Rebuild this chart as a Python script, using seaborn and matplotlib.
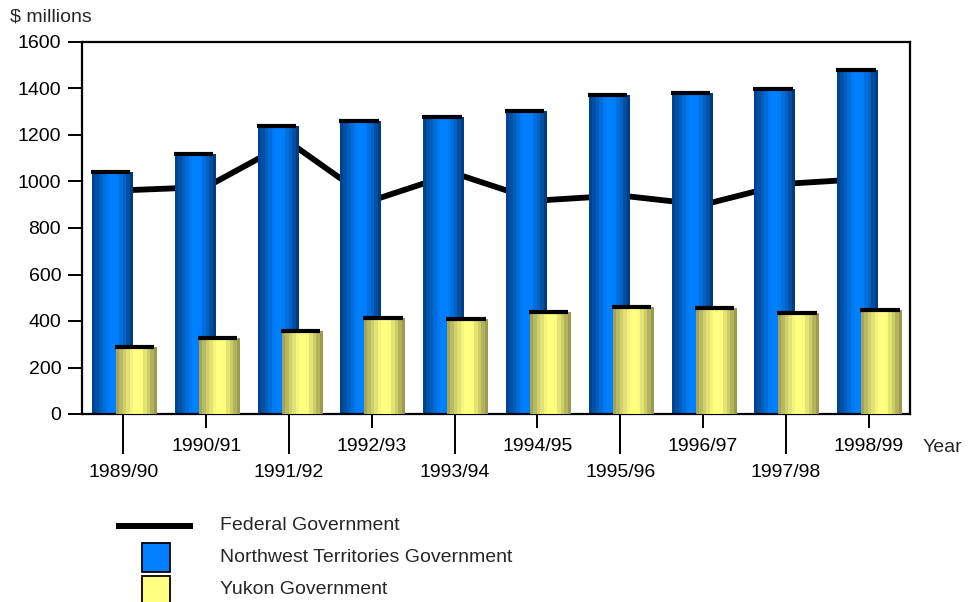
import numpy as np
import pandas as pd
import matplotlib
matplotlib.use("Agg")
import matplotlib.pyplot as plt
from matplotlib.colors import LinearSegmentedColormap
from matplotlib.lines import Line2D
from matplotlib.patches import Rectangle
from matplotlib.transforms import ScaledTranslation
import seaborn as sns

# ---- data -------------------------------------------------------------
years = ["1989/90", "1990/91", "1991/92", "1992/93", "1993/94",
         "1994/95", "1995/96", "1996/97", "1997/98", "1998/99"]
nwt = [1042, 1117, 1237, 1262, 1279, 1305, 1373, 1382, 1399, 1480]
yukon = [289, 328, 358, 413, 410, 440, 462, 457, 436, 449]
federal = [962, 976, 1170, 918, 1035, 918, 940, 900, 990, 1012]

series_names = ["Northwest Territories Government", "Yukon Government"]
line_name = "Federal Government"
y_ticks = [0, 200, 400, 600, 800, 1000, 1200, 1400, 1600]

# ---- style ------------------------------------------------------------
sns.set_style("white")
plt.rcParams["font.family"] = ["Liberation Sans", "DejaVu Sans"]
FS = 14

blue_cmap = LinearSegmentedColormap.from_list(
    "cyl_blue",
    [(0.0, "#00448f"), (0.2, "#0062c4"), (0.4, "#0080ff"),
     (0.62, "#0080ff"), (0.82, "#0062c4"), (1.0, "#003c80")])
yellow_cmap = LinearSegmentedColormap.from_list(
    "cyl_yellow",
    [(0.0, "#a4a458"), (0.2, "#d4d470"), (0.42, "#ffff80"),
     (0.62, "#ffff80"), (0.82, "#cccc68"), (1.0, "#9a9a50")])

df = pd.DataFrame({
    "year": years * 2,
    "value": nwt + yukon,
    "gov": [series_names[0]] * len(years) + [series_names[1]] * len(years),
})

fig = plt.figure(figsize=(9.69, 6.02), dpi=100)
ax = fig.add_axes([82 / 969, 1 - 414 / 602, 828 / 969, 372 / 602])

sns.barplot(data=df, x="year", y="value", hue="gov", hue_order=series_names,
            order=years, palette=["#0080ff", "#ffff80"], width=0.99,
            dodge=True, errorbar=None, legend=False, ax=ax, saturation=1)

# overlapping cylinders: shift the dodged bars toward each other
n = len(years)
blue_patches = ax.patches[:n]
yellow_patches = ax.patches[n:2 * n]
shifts = [0.1155, -0.0895]
bands = np.linspace(0, 1, 12).reshape(1, -1)
for k, (group, cmap) in enumerate([(blue_patches, blue_cmap),
                                   (yellow_patches, yellow_cmap)]):
    z = 2 + k
    for p in group:
        p.set_x(p.get_x() + shifts[k])
        p.set_linewidth(0)
        p.set_zorder(z)
        x0, w = p.get_x(), p.get_width()
        h = p.get_height()
        im = ax.imshow(bands, cmap=cmap, aspect="auto", interpolation="nearest",
                       extent=[x0, x0 + w, 0, h], zorder=z + 0.1)
        im.set_clip_path(p)
        # dark rim on the top of each cylinder
        ax.hlines(h, x0 - 0.012, x0 + w - 0.03, colors="black", linewidth=3,
                  zorder=z + 0.2)

# federal government line, drawn behind the bars
sns.lineplot(x=years, y=federal, color="black", linewidth=4.2, ax=ax,
             sort=False, zorder=1.5)

ax.set_xlim(-0.5, n - 0.5)
ax.set_ylim(0, 1600)
ax.set_xlabel("")
ax.set_ylabel("")
ax.set_yticks(y_ticks)
ax.set_yticklabels([str(v) for v in y_ticks], fontsize=FS)
ax.set_xticks(range(n))
ax.set_xticklabels(years, fontsize=FS)

for s in ax.spines.values():
    s.set_visible(True)
    s.set_color("black")
    s.set_linewidth(1.6)

ax.tick_params(axis="y", direction="out", length=10, width=1.4, pad=5,
               left=True, colors="black")
ax.tick_params(axis="x", direction="out", length=10, width=1.4, pad=7,
               bottom=True, colors="black")

# alternate long and short ticks so the labels stagger
for i, tick in enumerate(ax.xaxis.get_major_ticks()):
    if i % 2 == 0:
        tick.tick1line.set_markersize(29)
        tick.label1.set_transform(
            tick.label1.get_transform()
            + ScaledTranslation(0, -0.26, fig.dpi_scale_trans))

fig.text(923 / 969, 1 - 448 / 602, "Year", fontsize=FS, ha="left",
         va="center")
fig.text(10 / 969, 1 - 17 / 602, "$ millions", fontsize=FS, ha="left",
         va="center")

# legend
fig.add_artist(Line2D([116 / 969, 193 / 969], [1 - 526 / 602, 1 - 526 / 602],
                      color="black", linewidth=4.3, solid_capstyle="butt",
                      transform=fig.transFigure))
fig.add_artist(Rectangle((142 / 969, 1 - 572 / 602), 28 / 969, 29 / 602,
                         facecolor="#0080ff", edgecolor="black",
                         linewidth=1.3, transform=fig.transFigure))
fig.add_artist(Rectangle((142 / 969, 1 - 605 / 602), 28 / 969, 29 / 602,
                         facecolor="#ffff80", edgecolor="black",
                         linewidth=1.3, transform=fig.transFigure))
for label, yc in [(line_name, 525), (series_names[0], 557.5),
                  (series_names[1], 589)]:
    fig.text(220 / 969, 1 - yc / 602, label, fontsize=FS, ha="left",
             va="center")

fig.savefig("out.png", dpi=100)
